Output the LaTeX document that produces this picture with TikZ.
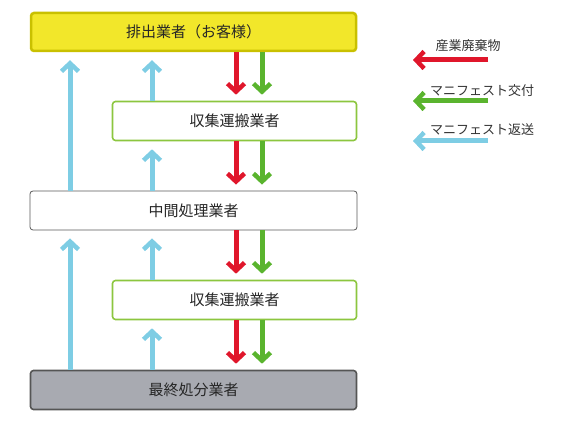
\documentclass[tikz,border=0pt]{standalone}
\usepackage{fontspec}
\setmainfont{Noto Sans CJK JP}
\usetikzlibrary{arrows.meta}
\definecolor{wred}{HTML}{E0162B}
\definecolor{wgreen}{HTML}{5AB42E}
\definecolor{wblue}{HTML}{7ECDE4}
\definecolor{byellow}{HTML}{F2E72A}
\definecolor{bolive}{HTML}{C9C000}
\definecolor{bgreen}{HTML}{8CC63F}
\definecolor{bgray}{HTML}{A8AAB1}
\definecolor{bdark}{HTML}{555555}
\tikzset{
  box/.style={draw, rounded corners=3pt, minimum height=39pt, font=\fontsize{15}{18}\selectfont, text=black!85},
  topbox/.style={box, fill=byellow, draw=bolive, line width=2.5pt, minimum width=325pt, minimum height=38pt},
  colbox/.style={box, fill=white, draw=bgreen, line width=1.6pt, minimum width=244pt},
  midbox/.style={box, fill=white, draw=black!65, line width=0.8pt, minimum width=327pt},
  finbox/.style={box, fill=bgray, draw=bdark, line width=1.6pt, minimum width=326pt},
  flow/.style={line width=5pt, -{Straight Barb[length=8pt,width=17pt,line width=4.5pt]}},
  redarr/.style={flow, draw=wred},
  greenarr/.style={flow, draw=wgreen},
  bluearr/.style={flow, draw=wblue},
  legtext/.style={font=\fontsize{13}{15}\selectfont, text=black!80, inner sep=0pt}
}
\begin{document}
\begin{tikzpicture}[x=1pt,y=-1pt]
\useasboundingbox (0,0) rectangle (570,427);
\node[topbox] (top) at (193.5,32) {排出業者（お客様）};
\node[colbox] (c1) at (234.5,121) {収集運搬業者};
\node[midbox] (mid) at (193.5,210.5) {中間処理業者};
\node[colbox] (c2) at (234.5,300) {収集運搬業者};
\node[finbox] (fin) at (193.5,390) {最終処分業者};
\coordinate (rx) at (236,0);
\coordinate (gx) at (262,0);
\coordinate (bl) at (70,0);
\coordinate (br) at (152,0);
% red / green downward
\foreach \a/\b in {top/c1, c1/mid, mid/c2, c2/fin}{
  \draw[redarr, shorten >=6pt] (\a.south -| rx) -- (\b.north -| rx);
  \draw[greenarr, shorten >=6pt] (\a.south -| gx) -- (\b.north -| gx);
}
% blue upward
\draw[bluearr, shorten >=8pt] (mid.north -| bl) -- (top.south -| bl);
\draw[bluearr, shorten >=8pt] (c1.north -| br) -- (top.south -| br);
\draw[bluearr, shorten >=8pt] (mid.north -| br) -- (c1.south -| br);
\draw[bluearr, shorten >=8pt] (fin.north -| bl) -- (mid.south -| bl);
\draw[bluearr, shorten >=8pt] (c2.north -| br) -- (mid.south -| br);
\draw[bluearr, shorten >=8pt] (fin.north -| br) -- (c2.south -| br);
% legend
\coordinate (l1s) at (488,60); \coordinate (l1e) at (413,60);
\coordinate (l2s) at (488,101); \coordinate (l2e) at (413,101);
\coordinate (l3s) at (488,141); \coordinate (l3e) at (413,141);
\draw[redarr] (l1s) -- (l1e);
\draw[greenarr] (l2s) -- (l2e);
\draw[bluearr] (l3s) -- (l3e);
\node[legtext] (t1) at (468,46) {産業廃棄物};
\node[legtext] (t2) at (482,91) {マニフェスト交付};
\node[legtext] (t3) at (482,130) {マニフェスト返送};
\end{tikzpicture}
\end{document}
